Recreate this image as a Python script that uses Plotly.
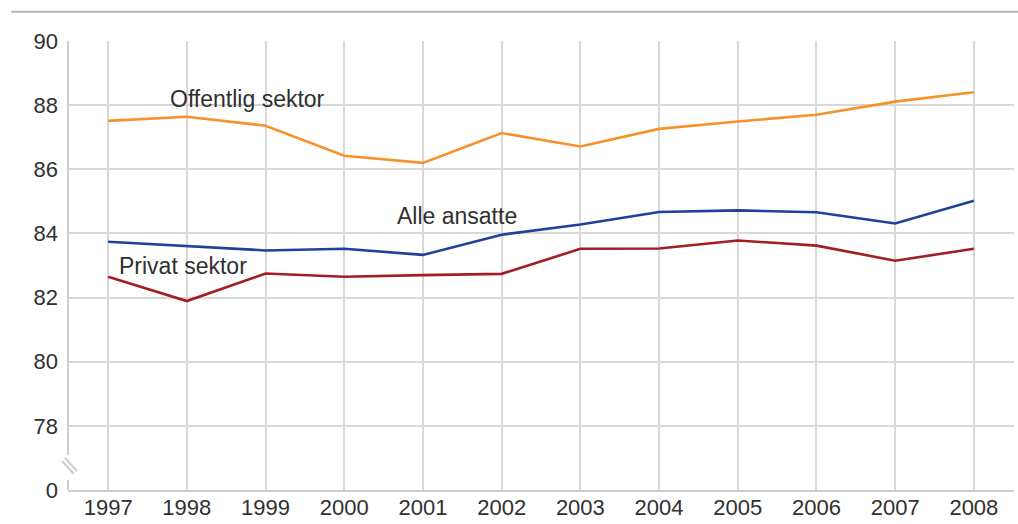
import plotly.graph_objects as go

# Years on the x axis
years = [1997, 1998, 1999, 2000, 2001, 2002, 2003, 2004, 2005, 2006, 2007, 2008]

# Share (per cent) by sector
offentlig = [87.51, 87.64, 87.36, 86.42, 86.20, 87.13, 86.71, 87.26, 87.49, 87.70, 88.11, 88.40]
alle = [83.74, 83.61, 83.47, 83.52, 83.33, 83.96, 84.28, 84.67, 84.72, 84.66, 84.31, 85.02]
privat = [82.65, 81.89, 82.75, 82.65, 82.70, 82.74, 83.52, 83.53, 83.78, 83.62, 83.15, 83.52]

# Y ticks: the axis is broken below 78, the bottom tick stands for 0
y_tickvals = [76, 78, 80, 82, 84, 86, 88, 90]
y_ticktext = ["0", "78", "80", "82", "84", "86", "88", "90"]

series = [
    ("Offentlig sektor", offentlig, "#f7922a"),
    ("Alle ansatte", alle, "#21409a"),
    ("Privat sektor", privat, "#a21d24"),
]

fig = go.Figure()
for name, vals, color in series:
    fig.add_trace(go.Scatter(
        x=years, y=vals, mode="lines", name=name,
        line=dict(color=color, width=2.6),
        hoverinfo="x+y",
    ))

font_family = "Liberation Sans, Arial, sans-serif"
text_color = "#303030"
grid_color = "#d8d8d8"
axis_color = "#cdcdcd"

# Series labels written next to the lines
labels = [
    ("Offentlig sektor", 1998.77, 88.2),
    ("Alle ansatte", 2001.43, 84.55),
    ("Privat sektor", 1997.95, 82.98),
]
for text, x, y in labels:
    fig.add_annotation(x=x, y=y, text=text, showarrow=False,
                       font=dict(family=font_family, size=23, color=text_color),
                       xanchor="center", yanchor="middle")

shapes = []
# Left axis line, interrupted by the break marks
shapes.append(dict(type="line", xref="paper", yref="paper", x0=0, x1=0, y0=1, y1=0.078,
                   line=dict(color=axis_color, width=2)))
shapes.append(dict(type="line", xref="paper", yref="paper", x0=0, x1=0, y0=0.0223, y1=0,
                   line=dict(color=axis_color, width=2)))
# Break marks (two short parallel diagonal strokes)
for x0, x1, y0, y1 in ((-0.0063, 0.0063, 0.0646, 0.0356),
                       (-0.0032, 0.0095, 0.0713, 0.0423)):
    shapes.append(dict(type="line", xref="paper", yref="paper",
                       x0=x0, x1=x1, y0=y0, y1=y1,
                       line=dict(color=axis_color, width=2)))
# Rule across the top of the figure
shapes.append(dict(type="line", xref="paper", yref="paper",
                   x0=-0.06, x1=1.01, y0=1.065, y1=1.065,
                   line=dict(color="#b4b4b4", width=2)))

fig.update_layout(
    width=1018, height=524,
    margin=dict(l=68, r=4, t=41, b=34),
    paper_bgcolor="white", plot_bgcolor="white",
    showlegend=False,
    font=dict(family=font_family, size=22, color=text_color),
    shapes=shapes,
)
fig.update_xaxes(
    range=[1996.49, 2008.51],
    tickvals=years, ticktext=[str(y) for y in years],
    showgrid=True, gridcolor=grid_color, gridwidth=2,
    showline=True, linecolor=axis_color, linewidth=2,
    zeroline=False, ticks="", ticklen=0,
    tickfont=dict(size=22, color=text_color),
    ticklabelstandoff=-3, automargin=False,
)
fig.update_yaxes(
    range=[76, 90],
    tickvals=y_tickvals, ticktext=y_ticktext,
    showgrid=True, gridcolor=grid_color, gridwidth=2,
    showline=False, zeroline=False, ticks="",
    tickfont=dict(size=22, color=text_color),
    ticklabelstandoff=9, automargin=False,
)

fig.write_html("out.html")
